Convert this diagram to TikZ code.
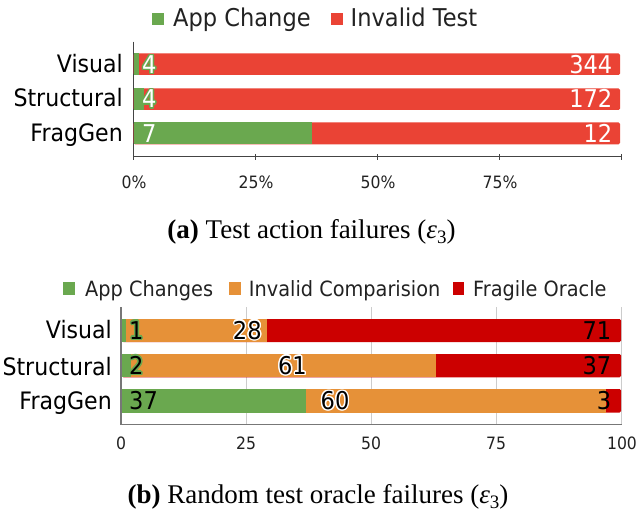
\documentclass[tikz,border=0pt]{standalone}
\usepackage{fontspec}
\setmainfont{Liberation Serif}
\newfontfamily\chartfont{DejaVu Sans}[FakeStretch=0.92]
\definecolor{gA}{HTML}{6AA84F}
\definecolor{rA}{HTML}{EA4335}
\definecolor{oB}{HTML}{E69138}
\definecolor{rB}{HTML}{CC0000}
\definecolor{txt}{HTML}{222222}
\definecolor{axA}{HTML}{444444}
\definecolor{axB}{HTML}{777777}
\definecolor{gridB}{HTML}{CCCCCC}
\tikzset{
  catlab/.style={inner sep=0pt, font=\chartfont\fontsize{24}{28}\selectfont, text=black},
  legA/.style={inner sep=0pt, font=\chartfont\fontsize{24.5}{28}\selectfont, text=txt},
  legB/.style={inner sep=0pt, font=\chartfont\fontsize{21}{25}\selectfont, text=txt},
  val/.style={inner sep=0pt, font=\chartfont\fontsize{24.5}{28}\selectfont},
  ticklab/.style={inner sep=0pt, font=\chartfont\fontsize{17}{20}\selectfont, text=txt},
  caplab/.style={inner sep=0pt, font=\fontsize{27}{31}\selectfont, text=black},
}
\newcommand\epsthree{{\itshape ε}\raisebox{-0.22em}{\fontsize{19}{20}\selectfont 3}}
% #1 name, #2 x,y, #3 anchor, #4 halo colour, #5 text colour, #6 text
\newcommand\halolabel[6]{%
  \foreach \ang in {0,30,...,330}{\node[val,anchor=#3,text=#4] (#1h\ang) at ([shift={(\ang:1.4)}]#2) {#6};}
  \node[val,anchor=#3,text=#5] (#1) at (#2) {#6};}
\begin{document}
\begin{tikzpicture}[x=1pt,y=-1pt]
\useasboundingbox (0,0) rectangle (639,516);
\fill[white] (0,0) rectangle (639,516);

% ---------------- chart (a) ----------------
% legend
\fill[gA] (151.7,12.7) rectangle (164,25);
\node[legA,anchor=base west] (legAapp) at (173,26.7) {App Change};
\fill[rA] (330.7,12.7) rectangle (342.7,25);
\node[legA,anchor=base west] (legAinv) at (350.5,26.7) {Invalid Test};

% axes
\draw[axA,line width=1pt] (133,41.7) -- (133,159.5);
\draw[axA,line width=1pt] (133,156) -- (621,156);
\foreach \tx in {255,377.7,499.3,621}{\draw[axA,line width=1pt] (\tx,154) -- (\tx,160);}

% bars
\fill[rA,rounded corners=1.5pt] (133.5,53.3) rectangle (620,75);
\fill[gA] (133.5,53.3) rectangle (138.6,75);
\fill[rA,rounded corners=1.5pt] (133.5,88.3) rectangle (620,110);
\fill[gA] (133.5,88.3) rectangle (144,110);
\fill[rA,rounded corners=1.5pt] (133.5,122.3) rectangle (620,144.3);
\fill[gA] (133.5,122.3) rectangle (312.4,144.3);

% category labels
\node[catlab,anchor=base east] (aVis) at (123,72.7) {Visual};
\node[catlab,anchor=base east] (aStr) at (123,106.7) {Structural};
\node[catlab,anchor=base east] (aFrg) at (123,141.7) {FragGen};

% value labels
\halolabel{aV1}{142,73.5}{base west}{gA}{white}{4}
\halolabel{aS1}{142,108}{base west}{gA}{white}{4}
\node[val,anchor=base west,text=white] (aF1) at (142,142.5) {7};
\node[val,anchor=base east,text=white] (aV2) at (612.5,73.5) {344};
\node[val,anchor=base east,text=white] (aS2) at (612.5,108) {172};
\node[val,anchor=base east,text=white] (aF2) at (612.5,142.5) {12};

% tick labels
\node[ticklab,anchor=base] (aT0) at (134,188.3) {0\%};
\node[ticklab,anchor=base] (aT25) at (256,188.3) {25\%};
\node[ticklab,anchor=base] (aT50) at (378,188.3) {50\%};
\node[ticklab,anchor=base] (aT75) at (500,188.3) {75\%};

% caption
\node[caplab,anchor=base] (capA) at (311.5,238) {\textbf{(a)} Test action failures (\epsthree)};

% ---------------- chart (b) ----------------
% legend
\fill[gA] (62.7,282.3) rectangle (75,295);
\node[legB,anchor=base west] (legBapp) at (85,296) {App Changes};
\fill[oB] (229,282.3) rectangle (241,295);
\node[legB,anchor=base west] (legBinv) at (248.7,296) {Invalid Comparision};
\fill[rB] (452.7,282.3) rectangle (464.3,295);
\node[legB,anchor=base west] (legBfra) at (473,296) {Fragile Oracle};

% grid and axes
\foreach \gx in {246,371,496,621}{\draw[gridB,line width=1pt] (\gx,307) -- (\gx,424);}
\draw[axB,line width=1.6pt] (121,307.3) -- (121,424.3) -- (621.5,424.3);

% bars
\fill[rB,rounded corners=1.5pt] (122,319) rectangle (621,342);
\fill[oB] (126,319) rectangle (266.5,342);
\fill[gA] (122,319) rectangle (126,342);
\fill[rB,rounded corners=1.5pt] (122,354) rectangle (621,377.3);
\fill[oB] (131,354) rectangle (436,377.3);
\fill[gA] (122,354) rectangle (131,377.3);
\fill[rB,rounded corners=1.5pt] (122,389) rectangle (621,412.7);
\fill[oB] (306,389) rectangle (606,412.7);
\fill[gA] (122,389) rectangle (306,412.7);

% category labels
\node[catlab,anchor=base east] (bVis) at (112,338.3) {Visual};
\node[catlab,anchor=base east] (bStr) at (112,375) {Structural};
\node[catlab,anchor=base east] (bFrg) at (112,409.3) {FragGen};

% value labels
\halolabel{bV1}{129,339.1}{base west}{gA}{black}{1}
\halolabel{bS1}{129,374.3}{base west}{gA}{black}{2}
\node[val,anchor=base west,text=black] (bF1) at (129,409.4) {37};
\halolabel{bV2}{247.3,339.1}{base}{white}{black}{28}
\halolabel{bS2}{292.5,374.3}{base}{white}{black}{61}
\halolabel{bF2}{335,409.4}{base}{white}{black}{60}
\node[val,anchor=base east,text=black] (bV3) at (611.5,339.1) {71};
\node[val,anchor=base east,text=black] (bS3) at (611.5,374.3) {37};
\node[val,anchor=base east,text=black] (bF3) at (611.5,409.4) {3};

% tick labels
\node[ticklab,anchor=base] (bT0) at (121,449) {0};
\node[ticklab,anchor=base] (bT25) at (246,449) {25};
\node[ticklab,anchor=base] (bT50) at (371,449) {50};
\node[ticklab,anchor=base] (bT75) at (496,449) {75};
\node[ticklab,anchor=base] (bT100) at (622,449) {100};

% caption
\node[caplab,anchor=base] (capB) at (318,503) {\textbf{(b)} Random test oracle failures (\epsthree)};
\end{tikzpicture}
\end{document}
